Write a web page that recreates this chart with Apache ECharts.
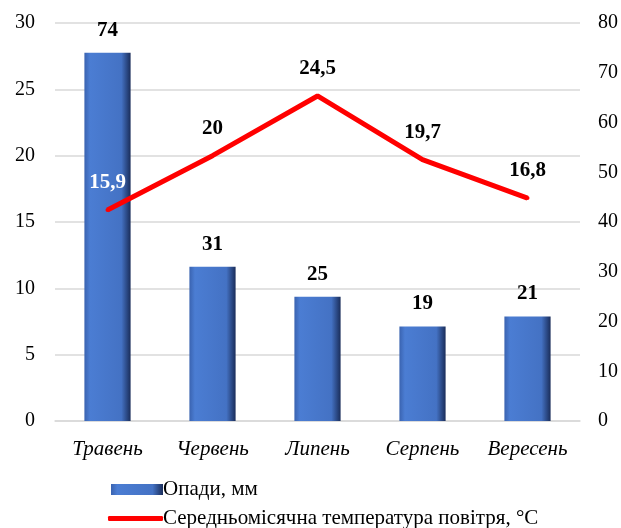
<!DOCTYPE html>
<html>
<head>
<meta charset="utf-8">
<script src="https://cdn.jsdelivr.net/npm/echarts@6/dist/echarts.min.js"></script>
<style>
  html, body { margin: 0; padding: 0; background: #fff; }
  #main { width: 621px; height: 528px; }
</style>
</head>
<body>
<div id="main"></div>
<script>
var months = ['Травень', 'Червень', 'Липень', 'Серпень', 'Вересень'];
var precip = [74, 31, 25, 19, 21];
var temps = [15.9, 20, 24.5, 19.7, 16.8];
var precipName = 'Опади, мм';
var tempName = 'Середньомісячна температура повітря, °C';

var myChart = echarts.init(document.getElementById('main'));
var font = '"Liberation Serif", "Times New Roman", serif';

var barColor = new echarts.graphic.LinearGradient(0, 0, 1, 0, [
  { offset: 0, color: '#3a63b0' },
  { offset: 0.12, color: '#4b7dd3' },
  { offset: 0.8, color: '#4472c4' },
  { offset: 1, color: '#1a2d5a' }
]);

var option = {
  textStyle: { fontFamily: font, color: '#000' },
  grid: { left: 55, right: 41, top: 23, bottom: 107 },
  legend: [
    {
      left: 106, top: 474,
      itemWidth: 52, itemHeight: 11,
      textStyle: { fontFamily: font, fontSize: 21, color: '#000', padding: [0, 0, 0, -5] },
      data: [{ name: precipName, icon: 'rect' }]
    },
    {
      left: 103, top: 503,
      itemWidth: 55, itemHeight: 5,
      textStyle: { fontFamily: font, fontSize: 21, color: '#000', padding: [0, 0, 0, -5] },
      data: [{ name: tempName, icon: 'roundRect', itemStyle: { color: '#ff0000' } }]
    }
  ],
  xAxis: {
    type: 'category',
    data: months,
    axisLine: { show: true, lineStyle: { color: '#d9d9d9', width: 1.5 } },
    axisTick: { show: false },
    axisLabel: { fontFamily: font, fontSize: 21, fontStyle: 'italic', color: '#000', margin: 18 }
  },
  yAxis: [
    {
      type: 'value', min: 0, max: 30, interval: 5,
      axisLine: { show: false }, axisTick: { show: false },
      axisLabel: { fontFamily: font, fontSize: 20, color: '#000', margin: 20 },
      splitLine: { lineStyle: { color: '#d9d9d9', width: 1.5 } }
    },
    {
      type: 'value', min: 0, max: 80, interval: 10,
      axisLine: { show: false }, axisTick: { show: false },
      axisLabel: { fontFamily: font, fontSize: 20, color: '#000', margin: 18 },
      splitLine: { show: false }
    }
  ],
  series: [
    {
      name: precipName,
      type: 'bar',
      yAxisIndex: 1,
      data: precip,
      barWidth: '44%',
      itemStyle: { color: barColor },
      label: {
        show: true, position: 'top', distance: 12,
        fontFamily: font, fontSize: 21, fontWeight: 'bold', color: '#000'
      }
    },
    {
      name: tempName,
      type: 'line',
      yAxisIndex: 0,
      data: temps.map(function (v, i) {
        var d = { value: v };
        if (i === 0) d.label = { color: '#fff' };
        return d;
      }),
      symbol: 'circle',
      symbolSize: 4,
      itemStyle: { color: '#ff0000' },
      lineStyle: { color: '#ff0000', width: 5 },
      label: {
        show: true, position: 'top', distance: 15,
        fontFamily: font, fontSize: 21, fontWeight: 'bold', color: '#000',
        formatter: function (p) { return String(p.value).replace('.', ','); }
      },
      z: 5
    }
  ]
};
myChart.setOption(option);
</script>
</body>
</html>
